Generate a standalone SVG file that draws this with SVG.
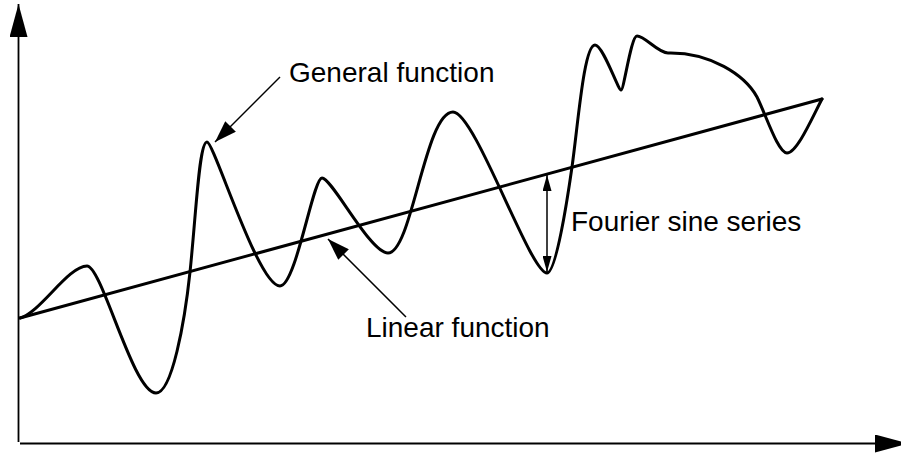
<svg xmlns="http://www.w3.org/2000/svg" width="901" height="454" viewBox="0 0 901 454">
  <style>
    .axis { stroke: #000; stroke-width: 1.8; fill: none; }
    .thick { stroke: #000; stroke-width: 3; fill: none; stroke-linejoin: round; stroke-linecap: round; }
    .thin { stroke: #000; stroke-width: 1.5; fill: none; }
    .label { font-family: "Liberation Sans", Arial, sans-serif; font-size: 28px; fill: #000; }
  </style>
  <defs>
    <marker id="axisHead" viewBox="0 0 33 18" refX="33" refY="9" markerWidth="33" markerHeight="18" markerUnits="userSpaceOnUse" orient="auto">
      <path d="M0,0 L33,9 L0,18 z" fill="#000"/>
    </marker>
    <marker id="calloutHead" viewBox="0 0 22 15" refX="22" refY="7.5" markerWidth="22" markerHeight="15" markerUnits="userSpaceOnUse" orient="auto">
      <path d="M0,0 L22,7.5 L0,15 z" fill="#000"/>
    </marker>
    <marker id="smallHead" viewBox="0 0 16 9" refX="16" refY="4.5" markerWidth="16" markerHeight="9" markerUnits="userSpaceOnUse" orient="auto-start-reverse">
      <path d="M0,0 L16,4.5 L0,9 z" fill="#000"/>
    </marker>
  </defs>

  <g id="axes">
    <line class="axis" x1="18.5" y1="442" x2="18.5" y2="4" marker-end="url(#axisHead)"/>
    <line class="axis" x1="20" y1="443.5" x2="908" y2="443.5" marker-end="url(#axisHead)"/>
  </g>

  <g id="linear-function">
    <line class="thick" x1="20" y1="318" x2="822" y2="99"/>
  </g>

  <g id="general-function">
    <path class="thick" d="M20,318
      C40,313 68,266 87,266
      C102,266 133,393 156,393
      C172,393 184.7,322 190,272
      C196.3,212 199,142 207,142
      C214,142 258,286 280,286
      C296,286 313,178 322,178
      C332,178 370,253 388,253
      C412,253 425,112 453,112
      C475,112 530,273 547,273
      C556,273 567,202 572,167
      C578.3,122 584,45 595,45
      C603,45 618,90 621,90
      C624,90 631,36 637,36
      C645,36 658,53 668,53
      C710,52 745,75 757,97
      C766,115 778,153 787,153
      C797,153 812,118 822,99"/>
  </g>

  <g id="connectors">
    <line class="thin" x1="280" y1="77" x2="215" y2="142" marker-end="url(#calloutHead)"/>
    <line class="thin" x1="406" y1="317" x2="328" y2="239" marker-end="url(#calloutHead)"/>
    <line class="thin" x1="547" y1="175" x2="547" y2="272" marker-start="url(#smallHead)" marker-end="url(#smallHead)"/>
  </g>

  <g id="label-general">
    <text class="label" x="289" y="82">General function</text>
  </g>
  <g id="label-linear">
    <text class="label" x="366" y="337">Linear function</text>
  </g>
  <g id="label-fourier">
    <text class="label" x="571" y="231">Fourier sine series</text>
  </g>
</svg>
